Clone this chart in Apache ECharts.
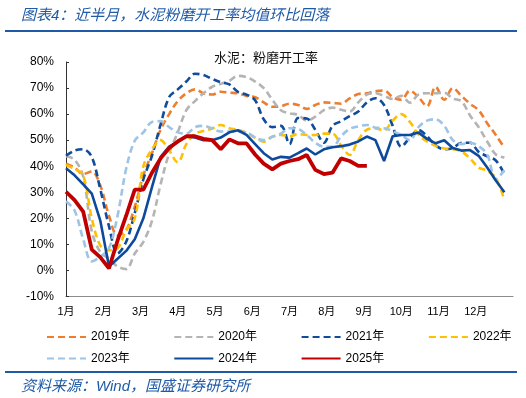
<!DOCTYPE html>
<html><head><meta charset="utf-8">
<script src="https://cdn.jsdelivr.net/npm/echarts@6/dist/echarts.min.js"></script>
<style>html,body{margin:0;padding:0;background:#fff;}#c{width:526px;height:398px;}</style>
</head><body><div id="c"></div>
<script>
// month tick labels
const monthLabels = ['1月','2月','3月','4月','5月','6月','7月','8月','9月','10月','11月','12月'];
const seriesNames = ['2019年','2020年','2021年','2022年','2023年','2024年','2025年'];
// weekly values (%), week index 0..51
const y2019 = [41,39.5,37,38,32.5,21,13.5,15.5,24.5,36.5,45,54,60,65,68,69.5,68,67.5,68.6,68.2,68,67,66.5,64.5,62.8,63,64,63.5,62,63.5,64.5,64.3,64,66,67.7,68,68.8,69,66.5,65.5,69,66.5,63,70.5,65.5,70,67,64,61.5,56.5,52,47];
const y2020 = [43.8,42.5,36,15,7,4.5,1.5,0.5,6.5,11,19,33,45,53,61.5,65,68,70.5,71.6,72.8,74.7,74.2,72.5,70,65.5,61.5,60.3,59.7,57.5,59,61.5,62.5,61.7,61,64.5,67.5,68,67,65.8,67,64.4,67.5,68,68,68.2,66,65,59.5,55,49.5,44.5,43.4];
const y2021 = [44,46,46.5,43.5,31,17,6.5,11,22,35,44,56,66.5,69.5,72.5,75.5,75,73.5,72.2,71.4,68.5,67.5,65.3,58,55,55.5,48.5,58.5,58.3,54,49,55.5,57.3,59.2,61,64.5,66.1,63.5,55.5,47.5,51,53.9,51.5,48,46.5,47,49,49,45.5,43.8,42.2,37];
const y2022 = [40.5,39,36.5,20,9.5,7.8,8.5,15.5,20,40,46.5,50,46,41.5,48.5,52.5,53.5,54.5,55.8,54.6,54,52.8,51,49.4,51.3,52,51.5,52.3,52,52,52.5,52.5,48,44.3,50,54,54.5,53.8,57.5,60,57,52.2,49.5,47.8,46.8,46.5,45.7,43,39.5,38.2,35.5,27];
const y2023 = [26.5,23,12,3.5,5.3,8.5,21,39,49.8,53,57,57.3,55,53,52.5,55,55.5,54.5,53.3,53.3,53.3,53,51,50,51.3,52.5,54.6,54.3,52,49,47.5,47.5,51.5,54.3,55.3,55.8,54.8,54.6,53.5,52,50,55,57.5,58,55.5,50,48.5,49,47.7,44.5,35,38.5];
const y2024 = [39.2,36.5,33,29.5,19,1.5,4.5,7.5,12,20,32,43.5,47.5,49.3,51.5,51,50,50,51,53,53.8,52,48.5,45,42.6,43.6,43.3,45,46.8,44.5,46.5,47.3,47.7,48.3,49.5,51.4,50,42,51.5,52,52,52.9,50.5,48.8,50,47,46,46.2,44,39.5,34.5,30];
const y2025 = [30.2,27,22.6,8,5,0.8,11.5,21,31,31,37.5,43,47,49.5,51.5,51.5,50.5,50,46.5,50.3,48.8,48.8,44.5,41,38.8,41,42,42.7,44.3,38.6,37,37.5,43,42,40.1,40.1];

const colors = ['#ED7D31','#B4B4B4','#104C9C','#FFC000','#9DC3E6','#0E4A9C','#C00000'];
const valueSets = [y2019,y2020,y2021,y2022,y2023,y2024,y2025];
const dashed = [true,true,true,true,true,false,false];
const widths = [2.6,2.6,2.6,2.6,2.6,2.6,3.8];

const cjk = "'Liberation Sans','Noto Sans CJK SC',sans-serif";
const chart = echarts.init(document.getElementById('c'), null, {renderer:'canvas'});
const series = valueSets.map((vals, k) => ({
  name: seriesNames[k],
  type: 'line',
  data: vals.map((v, i) => [i * 12 / 52, v]),
  symbol: 'none',
  smooth: dashed[k] ? 0.35 : false,
  color: colors[k],
  lineStyle: { color: colors[k], width: widths[k], type: dashed[k] ? [7, 4] : 'solid' },
  z: 2 + k
}));

const legendBase = { orient: 'horizontal', itemWidth: 39, itemHeight: 14, itemGap: 43.6,
  itemStyle: { opacity: 0 },
  textStyle: { fontFamily: cjk, fontSize: 12, color: '#000' } };

chart.setOption({
  animation: false,
  title: [
    { text: '图表4：近半月，水泥粉磨开工率均值环比回落', left: 16, top: 3,
      textStyle: { fontFamily: cjk, fontSize: 15, fontStyle: 'italic', fontWeight: 'normal', color: '#1F5AA6' } },
    { text: '水泥：粉磨开工率', left: 261, textAlign: 'center', top: 47,
      textStyle: { fontFamily: cjk, fontSize: 13, fontWeight: 'normal', color: '#111' } },
    { text: '资料来源：Wind，国盛证券研究所', left: 16, top: 374,
      textStyle: { fontFamily: cjk, fontSize: 15, fontStyle: 'italic', fontWeight: 'normal', color: '#1F5AA6' } }
  ],
  graphic: [
    { type: 'line', shape: { x1: 5, y1: 31, x2: 517, y2: 31 }, style: { stroke: '#1F5AA6', lineWidth: 2 } },
    { type: 'line', shape: { x1: 5, y1: 372, x2: 517, y2: 372 }, style: { stroke: '#1F5AA6', lineWidth: 2 } }
  ],
  grid: { left: 66, right: 13, top: 62, bottom: 101.5, containLabel: false },
  legend: [
    Object.assign({ data: seriesNames.slice(0, 4), left: 41, top: 326 }, legendBase),
    Object.assign({ data: seriesNames.slice(4), left: 41, top: 347.5 }, legendBase)
  ],
  xAxis: {
    type: 'value', min: 0, max: 12, interval: 1,
    axisLine: { onZero: false, lineStyle: { color: '#8c8c8c', width: 1.2 } },
    axisTick: { show: false },
    splitLine: { show: false },
    axisLabel: { fontFamily: cjk, fontSize: 11, color: '#000', margin: 10,
      formatter: v => (v >= 0 && v < 12) ? monthLabels[Math.round(v)] : '' }
  },
  yAxis: {
    type: 'value', min: -10, max: 80, interval: 10,
    axisLine: { show: true, lineStyle: { color: '#333', width: 1 } },
    axisTick: { show: true, inside: true, length: 3, lineStyle: { color: '#333' } },
    splitLine: { show: false },
    axisLabel: { fontFamily: "'Liberation Sans',sans-serif", fontSize: 12, color: '#000', margin: 12,
      formatter: '{value}%' }
  },
  series: series
});
</script></body></html>
